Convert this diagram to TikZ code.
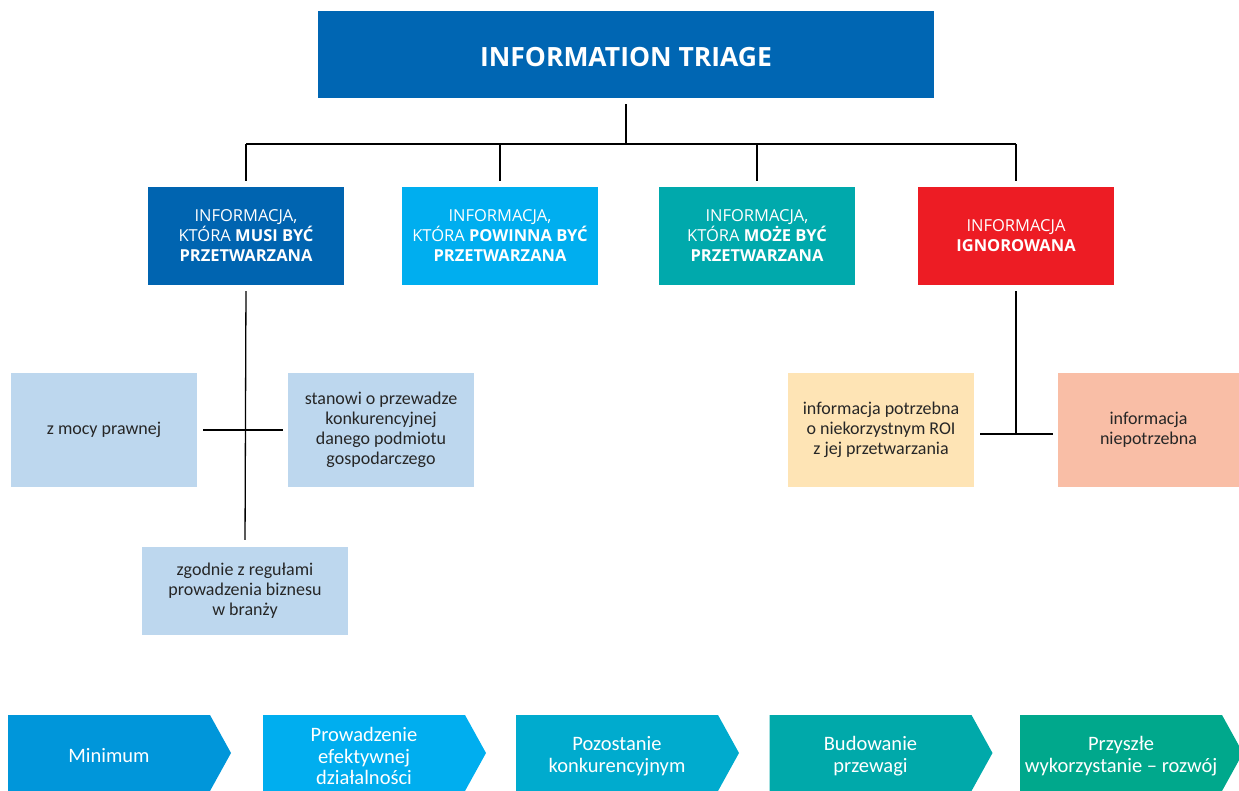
\documentclass[tikz,border=0pt]{standalone}
\usepackage{fontspec}
\setmainfont{Carlito}
\newfontfamily\osans{Open Sans}

\definecolor{titleblue}{HTML}{0066B3}
\definecolor{mustblue}{HTML}{0064B0}
\definecolor{shouldblue}{HTML}{00AEEF}
\definecolor{mayteal}{HTML}{00A9AC}
\definecolor{ignred}{HTML}{ED1C24}
\definecolor{subblue}{HTML}{BDD7EE}
\definecolor{subsand}{HTML}{FEE4B5}
\definecolor{subsalmon}{HTML}{F9BEA6}
\definecolor{txtdark}{HTML}{262626}
\definecolor{stepA}{HTML}{0096DA}
\definecolor{stepB}{HTML}{00AEEF}
\definecolor{stepC}{HTML}{00ABCE}
\definecolor{stepD}{HTML}{00A9AA}
\definecolor{stepE}{HTML}{00A88C}

\tikzset{
  titlebox/.style={fill=titleblue, minimum width=616, minimum height=87, inner sep=0},
  titletext/.style={text=white, inner sep=0, font=\osans\bfseries\fontsize{26.5}{30}\selectfont},
  catbox/.style={minimum width=196, minimum height=98, inner sep=0, text=white, align=center,
    font=\osans\fontsize{16.5}{20}\selectfont},
  subbox/.style={minimum width=186, minimum height=114, inner sep=0, text=txtdark, align=center,
    font=\fontsize{18}{20}\selectfont},
  steptext/.style={inner sep=0, text=white, align=center,
    font=\fontsize{20.5}{21.5}\selectfont},
  link/.style={draw=black, line width=1.3},
}

\begin{document}
\begin{tikzpicture}[x=1pt, y=-1pt]
\useasboundingbox (0,0) rectangle (1239,791);

% root
\node[titlebox] (title) at (626,54.5) {};
\node[titletext] (titlelbl) at (626,57) {INFORMATION TRIAGE};

% four categories
\node[catbox, fill=mustblue]   (c1) at (246,236) {INFORMACJA,\\KTÓRA \textbf{MUSI BYĆ}\\\textbf{PRZETWARZANA}};
\node[catbox, fill=shouldblue] (c2) at (500,236) {INFORMACJA,\\KTÓRA \textbf{POWINNA BYĆ}\\\textbf{PRZETWARZANA}};
\node[catbox, fill=mayteal]    (c3) at (757,236) {INFORMACJA,\\KTÓRA \textbf{MOŻE BYĆ}\\\textbf{PRZETWARZANA}};
\node[catbox, fill=ignred]     (c4) at (1016,236) {INFORMACJA\\\textbf{IGNOROWANA}};

% sub-items of the first category
\node[subbox, fill=subblue] (s1) at (104,430) {z mocy prawnej};
\node[subbox, fill=subblue] (s2) at (381,430) {stanowi o przewadze\\konkurencyjnej\\danego podmiotu\\gospodarczego};
\node[subbox, fill=subblue, minimum width=206, minimum height=88] (s3) at (245,591) {zgodnie z regułami\\prowadzenia biznesu\\w branży};

% sub-items of the last category
\node[subbox, fill=subsand]   (r1) at (881,430) {informacja potrzebna\\o niekorzystnym ROI\\z jej przetwarzania};
\node[subbox, fill=subsalmon, minimum width=181] (r2) at (1148.5,430) {informacja\\niepotrzebna};

% tree connectors
\coordinate (bus) at (626,144);
\draw[link, shorten <=6] (title.south) -- (bus);
\draw[link] (c1.north |- bus) -- (c4.north |- bus);
\foreach \c in {c1,c2,c3,c4}
  \draw[link, shorten >=6] (\c.north |- bus) -- (\c.north);

\draw[link, shorten <=6, shorten >=7] (c1.south) -- (s3.north);
\draw[link, shorten <=6, shorten >=5] (s1.east) -- (s2.west);

\coordinate (rj) at (1016,434);
\draw[link, shorten <=6] (c4.south) -- (rj);
\draw[link, shorten <=6, shorten >=5] (r1.east |- rj) -- (r2.west |- rj);

% bottom chevrons: body 202 wide, point 21 deep
\foreach \n/\x/\col/\txt in {
    a1/109/stepA/{Minimum},
    a2/364/stepB/{Prowadzenie\\efektywnej\\działalności},
    a3/617/stepC/{Pozostanie\\konkurencyjnym},
    a4/870.5/stepD/{Budowanie\\przewagi},
    a5/1121/stepE/{Przyszłe\\wykorzystanie -- rozwój}} {
  \fill[\col] (\x-101,715) -- (\x+101,715) -- (\x+122,753) -- (\x+101,791) -- (\x-101,791) -- cycle;
  \node[steptext] (\n) at (\x,756) {\txt};
}
\end{tikzpicture}
\end{document}
